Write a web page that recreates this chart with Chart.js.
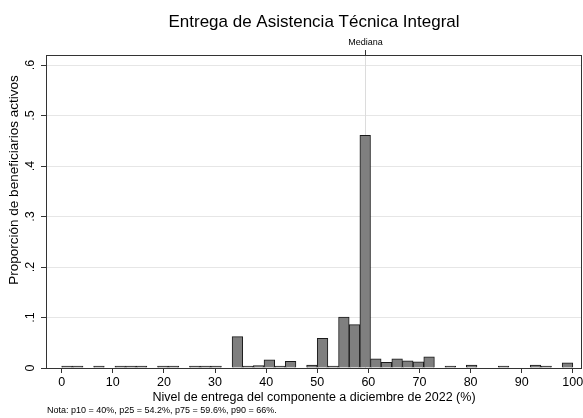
<!DOCTYPE html>
<html>
<head>
<meta charset="utf-8">
<script src="https://cdn.jsdelivr.net/npm/chart.js@4.4.1/dist/chart.umd.min.js"></script>
<style>
html, body { margin: 0; padding: 0; background: #fff; }
</style>
</head>
<body>
<canvas id="histcanvas" width="583" height="418"></canvas>
<script>
// bin centres (48 bins of width ~2.08 between 0 and 100)
const binCenters = [1.04, 3.13, 5.21, 7.29, 9.38, 11.46, 13.54, 15.63, 17.71, 19.79,
  21.88, 23.96, 26.04, 28.13, 30.21, 32.29, 34.38, 36.46, 38.54, 40.63,
  42.71, 44.79, 46.88, 48.96, 51.04, 53.13, 55.21, 57.29, 59.38, 61.46,
  63.54, 65.63, 67.71, 69.79, 71.88, 73.96, 76.04, 78.13, 80.21, 82.29,
  84.38, 86.46, 88.54, 90.63, 92.71, 94.79, 96.88, 98.96];
// fraction of active beneficiaries in each bin
const fractions = [0.001, 0.002, 0, 0.002, 0, 0.001, 0.001, 0.003, 0, 0.001,
  0.002, 0, 0.004, 0.003, 0.001, 0, 0.062, 0.001, 0.005, 0.016,
  0.003, 0.013, 0, 0.006, 0.059, 0.004, 0.101, 0.086, 0.461, 0.018,
  0.011, 0.018, 0.014, 0.012, 0.022, 0, 0.001, 0, 0.006, 0,
  0, 0.001, 0, 0, 0.006, 0.001, 0, 0.010];
const xTicks = [0, 10, 20, 30, 40, 50, 60, 70, 80, 90, 100];
const yTicks = [0, 0.1, 0.2, 0.3, 0.4, 0.5, 0.6];
const median = 59.3;

const titleText = "Entrega de Asistencia Técnica Integral";
const xTitle = "Nivel de entrega del componente a diciembre de 2022 (%)";
const yTitle = "Proporción de beneficiarios activos";
const noteText = "Nota: p10 = 40%, p25 = 54.2%, p75 = 59.6%, p90 = 66%.";

const FONT = "'Liberation Sans', Arial, Helvetica, sans-serif";
Chart.defaults.font.family = FONT;
Chart.defaults.color = "#000";

function stataLabel(v) {
    if (v === 0) return "0";
    return String(Math.round(v * 10) / 10).replace("0.", ".");
}

// texts, frame and the median line
const stataPlugin = {
    id: "stataPlugin",
    beforeDatasetsDraw(chart) {
        const ctx = chart.ctx;
        const area = chart.chartArea;
        const xs = chart.scales.x;
        const mx = Math.round(xs.getPixelForValue(median)) + 0.5;
        ctx.save();
        ctx.strokeStyle = "#dcdcdc";
        ctx.lineWidth = 1;
        ctx.beginPath();
        ctx.moveTo(mx, area.top);
        ctx.lineTo(mx, area.bottom);
        ctx.stroke();
        ctx.restore();
    },
    afterDraw(chart) {
        const ctx = chart.ctx;
        const area = chart.chartArea;
        const xs = chart.scales.x;
        const ys = chart.scales.y;
        ctx.save();
        // frame
        ctx.strokeStyle = "#333";
        ctx.lineWidth = 1;
        ctx.strokeRect(Math.round(area.left) + 0.5, Math.round(area.top) + 0.5,
            Math.round(area.right - area.left) - 1, Math.round(area.bottom - area.top));
        // median tick on top axis
        const mx = Math.round(xs.getPixelForValue(median)) + 0.5;
        ctx.beginPath();
        ctx.moveTo(mx, area.top - 5);
        ctx.lineTo(mx, area.top);
        ctx.stroke();
        ctx.fillStyle = "#000";
        ctx.textAlign = "center";
        ctx.textBaseline = "alphabetic";
        ctx.font = "9px " + FONT;
        ctx.fillText("Mediana", mx, area.top - 10);
        // title
        ctx.font = "17px " + FONT;
        ctx.fillText(titleText, (area.left + area.right) / 2, 27);
        // y tick labels, rotated like Stata
        ctx.font = "12.5px " + FONT;
        ctx.textBaseline = "middle";
        yTicks.forEach(function (v) {
            const py = ys.getPixelForValue(v);
            ctx.save();
            ctx.translate(31, py);
            ctx.rotate(-Math.PI / 2);
            ctx.fillText(stataLabel(v), 0, 0);
            ctx.restore();
        });
        // y title
        ctx.font = "13.5px " + FONT;
        ctx.save();
        ctx.translate(14, 180);
        ctx.rotate(-Math.PI / 2);
        ctx.fillText(yTitle, 0, 0);
        ctx.restore();
        // x title
        ctx.font = "12.5px " + FONT;
        ctx.fillText(xTitle, (area.left + area.right) / 2, 398);
        // note
        ctx.textAlign = "left";
        ctx.font = "9px " + FONT;
        ctx.fillText(noteText, 47, 411);
        ctx.restore();
    }
};

window.onload = function () {
    const ctx = document.getElementById("histcanvas").getContext("2d");
    window.myHist = new Chart(ctx, {
        type: "bar",
        data: {
            datasets: [{
                label: "Fracción",
                data: binCenters.map(function (c, i) {
                    return { x: c, y: fractions[i] > 0 ? fractions[i] : null };
                }),
                backgroundColor: "#7f7f7f",
                borderColor: "#1a1a1a",
                borderWidth: 1,
                barPercentage: 1,
                categoryPercentage: 1,
                minBarLength: 2
            }]
        },
        plugins: [stataPlugin],
        options: {
            responsive: false,
            animation: false,
            layout: { padding: { top: 55, right: 1, left: 0, bottom: 0 } },
            plugins: {
                legend: { display: false },
                title: { display: false },
                tooltip: { enabled: false }
            },
            scales: {
                x: {
                    type: "linear",
                    offset: false,
                    min: -3.07,
                    max: 101.8,
                    afterBuildTicks: function (scale) {
                        scale.ticks = xTicks.map(function (v) { return { value: v }; });
                    },
                    afterFit: function (scale) {
                        scale.height = 50;
                        scale.paddingLeft = 0;
                        scale.paddingRight = 0;
                    },
                    grid: {
                        offset: false,
                        drawOnChartArea: false,
                        drawTicks: true,
                        tickLength: 5,
                        tickColor: "#333"
                    },
                    border: { display: false },
                    ticks: {
                        font: { size: 12.5 },
                        color: "#000",
                        padding: 2,
                        maxRotation: 0,
                        autoSkip: false
                    }
                },
                y: {
                    min: 0,
                    max: 0.62,
                    afterBuildTicks: function (scale) {
                        scale.ticks = yTicks.map(function (v) { return { value: v }; });
                    },
                    afterFit: function (scale) {
                        scale.width = 46;
                    },
                    grid: {
                        color: "#e6e6e6",
                        drawTicks: true,
                        tickLength: 5,
                        tickColor: "#333"
                    },
                    border: { display: false },
                    ticks: { display: false }
                }
            }
        }
    });
};
</script>
</body>
</html>
